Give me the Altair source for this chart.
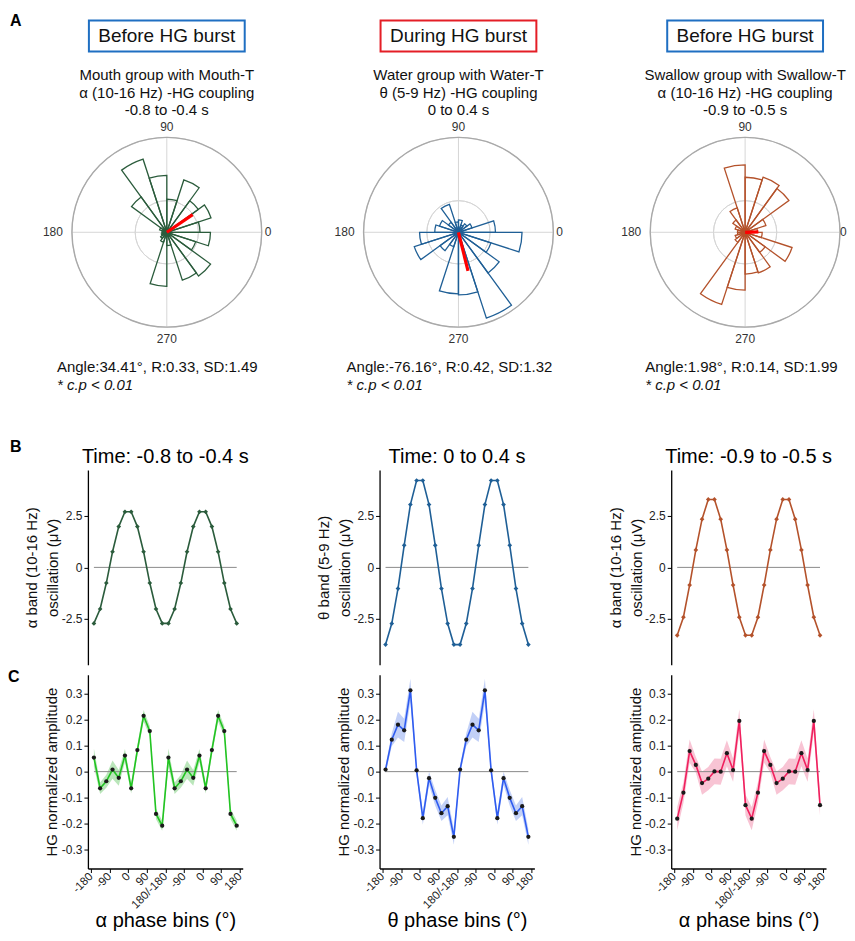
import math
import altair as alt
import pandas as pd

FONT = "Liberation Sans"

# ---------------- data ----------------
bin_start = [0, 18, 36, 54, 72, 90, 108, 126, 144, 162, 180, 198, 216, 234, 252, 270, 288, 306, 324, 342]
bin_width = 18
rose_mouth = [0.35, 0.49, 0.41, 0.58, 0.35, 0.60, 0.81, 0.46, 0.08, 0.05, 0.05, 0.06, 0.08, 0.11, 0.57, 0.14, 0.53, 0.57, 0.32, 0.46]
rose_water = [0.39, 0.15, 0.11, 0.08, 0.13, 0.11, 0.31, 0.13, 0.21, 0.25, 0.41, 0.49, 0.24, 0.16, 0.65, 0.66, 0.95, 0.53, 0.36, 0.67]
rose_swallow = [0.13, 0.23, 0.57, 0.61, 0.58, 0.71, 0.27, 0.16, 0.11, 0.08, 0.08, 0.11, 0.13, 0.80, 0.61, 0.44, 0.45, 0.26, 0.52, 0.18]
ring_levels = [1 / 3, 2 / 3]
outer_ring = [1.0]
mean_angle = [34.41, -76.16, 1.98]
mean_R = [0.33, 0.42, 0.14]
mean_SD = [1.49, 1.32, 1.99]

phase_bins = [-165, -135, -105, -75, -45, -15, 15, 45, 75, 105, 135, 165,
              195, 225, 255, 285, 315, 345, 375, 405, 435, 465, 495, 525]
x_ticks = [-180, -90, 0, 90, 180, 270, 360, 450, 540]
x_tick_labels = ["-180", "-90", "0", "90", "180/-180", "-90", "0", "90", "180"]
osc_ticks = [-2.5, 0, 2.5]
osc_tick_labels = ["-2.5", "0", "2.5"]
hg_ticks = [-0.3, -0.2, -0.1, 0, 0.1, 0.2, 0.3]
hg_tick_labels = ["-0.3", "-0.2", "-0.1", "0", "0.1", "0.2", "0.3"]

osc_mouth = [-2.72, -2.02, -0.76, 0.76, 1.98, 2.7, 2.7, 1.98, 0.76, -0.76, -2.02, -2.72,
             -2.72, -2.02, -0.76, 0.76, 1.98, 2.7, 2.7, 1.98, 0.76, -0.76, -2.02, -2.72]
osc_water = [-3.75, -2.73, -1.03, 1.07, 3.05, 4.22, 4.22, 3.05, 1.07, -1.03, -2.73, -3.75,
             -3.75, -2.73, -1.03, 1.07, 3.05, 4.22, 4.22, 3.05, 1.07, -1.03, -2.73, -3.75]
osc_swallow = [-3.3, -2.42, -0.86, 0.85, 2.34, 3.3, 3.3, 2.34, 0.85, -0.86, -2.42, -3.3,
               -3.3, -2.42, -0.86, 0.85, 2.34, 3.3, 3.3, 2.34, 0.85, -0.86, -2.42, -3.3]

hg_mouth = [0.054, -0.064, -0.037, 0.008, -0.024, 0.062, -0.064, 0.083, 0.215, 0.156, -0.163, -0.208,
            0.054, -0.064, -0.037, 0.008, -0.024, 0.062, -0.064, 0.083, 0.215, 0.156, -0.163, -0.208]
hg_mouth_err = [0.035, 0.022, 0.025, 0.035, 0.03, 0.025, 0.02, 0.02, 0.022, 0.02, 0.02, 0.02,
                0.035, 0.022, 0.025, 0.035, 0.03, 0.025, 0.02, 0.02, 0.022, 0.02, 0.02, 0.02]
hg_water = [0.008, 0.123, 0.181, 0.159, 0.313, 0.005, -0.179, -0.025, -0.101, -0.160, -0.133, -0.251,
            0.008, 0.123, 0.181, 0.159, 0.313, 0.005, -0.179, -0.025, -0.101, -0.160, -0.133, -0.251]
hg_water_err = [0.015, 0.025, 0.05, 0.045, 0.045, 0.02, 0.025, 0.025, 0.03, 0.03, 0.035, 0.03,
                0.015, 0.025, 0.05, 0.045, 0.045, 0.02, 0.025, 0.025, 0.03, 0.03, 0.035, 0.03]
hg_swallow = [-0.181, -0.081, 0.079, 0.026, -0.044, -0.027, 0.001, 0.0, 0.071, 0.006, 0.195, -0.129,
              -0.181, -0.081, 0.079, 0.026, -0.044, -0.027, 0.001, 0.0, 0.071, 0.006, 0.195, -0.129]
hg_swallow_err = [0.045, 0.04, 0.045, 0.03, 0.045, 0.045, 0.05, 0.05, 0.05, 0.045, 0.045, 0.04,
                  0.045, 0.04, 0.045, 0.03, 0.045, 0.045, 0.05, 0.05, 0.05, 0.045, 0.045, 0.04]

headers = ["Before HG burst", "During HG burst", "Before HG burst"]
groups = ["Mouth group with Mouth-T", "Water group with Water-T", "Swallow group with Swallow-T"]
couplings = ["α (10-16 Hz) -HG coupling", "θ (5-9 Hz) -HG coupling", "α (10-16 Hz) -HG coupling"]
windows = ["-0.8 to -0.4 s", "0 to 0.4 s", "-0.9 to -0.5 s"]
sig_text = "* c.p < 0.01"
time_titles = ["Time: -0.8 to -0.4 s", "Time: 0 to 0.4 s", "Time: -0.9 to -0.5 s"]
osc_titles = [["α band (10-16 Hz)", "oscillation (μV)"],
              ["θ band (5-9 Hz)", "oscillation (μV)"],
              ["α band (10-16 Hz)", "oscillation (μV)"]]
hg_title = "HG normalized amplitude"
phase_titles = ["α phase bins (°)", "θ phase bins (°)", "α phase bins (°)"]
panel_letters = ["A", "B", "C"]

rose_sets = [rose_mouth, rose_water, rose_swallow]
osc_sets = [osc_mouth, osc_water, osc_swallow]
hg_sets = [(hg_mouth, hg_mouth_err), (hg_water, hg_water_err), (hg_swallow, hg_swallow_err)]

# ---------------- style / layout ----------------
rose_colors = ["#2b5c3c", "#1f5f96", "#b4522b"]
box_colors = ["#1f6fc2", "#e41e26", "#1f6fc2"]
hg_line_colors = ["#22c422", "#2f5cf0", "#f0205e"]
hg_band_colors = ["#a3dea3", "#adc0f4", "#f6b0c6"]

W = 155
TOP_H = 388
OSC_H = 195
HG_H = 194
R_PX = 95
CXS = [79, 79, 74]
ZERO_DX = [98, 98, 95]
CY = 160
ANGLE_TEXT_DX = [-110, -112, -100]
X_DOM = [-194, 554]
COL_SPACING = 292

ONE = pd.DataFrame({"o": [0]})


def label_expr(vals, labels):
    parts = [f"abs(datum.value - ({v})) < 1e-6 ? '{l}'" for v, l in zip(vals, labels)]
    return " : ".join(parts) + " : ''"


def T(text, x, y, size=15, align="center", baseline="alphabetic", color="#111", **kw):
    return alt.Chart(ONE).mark_text(
        text=text, font=FONT, fontSize=size, align=align, baseline=baseline, color=color, **kw
    ).encode(x=alt.value(x), y=alt.value(y))


def polar_panel(k):
    cx = CXS[k]
    cy = CY
    color = rose_colors[k]
    xs = alt.Scale(domain=[-cx / R_PX, (W - cx) / R_PX], nice=False, zero=False)
    ys = alt.Scale(domain=[-(TOP_H - cy) / R_PX, cy / R_PX], nice=False, zero=False)
    rs = alt.Scale(type="linear", domain=[0, 1], range=[0, R_PX], zero=True)

    def X(f):
        return alt.X(f, type="quantitative", scale=xs, axis=None)

    def Y(f):
        return alt.Y(f, type="quantitative", scale=ys, axis=None)

    rings = alt.Chart(pd.DataFrame({"r": ring_levels})).transform_calculate(
        cx0="0", cy0="0"
    ).mark_arc(theta=0, theta2=2 * math.pi, fillOpacity=0, stroke="#d6d6d6", strokeWidth=1).encode(
        x=X("cx0"), y=Y("cy0"), radius=alt.Radius("r:Q", scale=rs)
    )
    cross = alt.Chart(pd.DataFrame({"a": [0, 90]})).transform_calculate(
        x1="cos(datum.a*PI/180)", x2="-cos(datum.a*PI/180)",
        y1="sin(datum.a*PI/180)", y2="-sin(datum.a*PI/180)"
    ).mark_rule(color="#d6d6d6", strokeWidth=1).encode(
        x=X("x1"), x2=alt.X2("x2"), y=Y("y1"), y2=alt.Y2("y2")
    )
    outer = alt.Chart(pd.DataFrame({"r": outer_ring})).transform_calculate(
        cx0="0", cy0="0"
    ).mark_arc(theta=0, theta2=2 * math.pi, fillOpacity=0, stroke="#a9a9a9", strokeWidth=1.4).encode(
        x=X("cx0"), y=Y("cy0"), radius=alt.Radius("r:Q", scale=rs)
    )
    rose = alt.Chart(pd.DataFrame({"start": bin_start, "r": rose_sets[k]})).transform_calculate(
        cx0="0", cy0="0",
        t1=f"((450 - datum.start - {bin_width}) % 360) * PI / 180",
    ).transform_calculate(
        t2=f"datum.t1 + {bin_width} * PI / 180"
    ).mark_arc(fillOpacity=0, stroke=color, strokeWidth=1.3, strokeJoin="miter").encode(
        x=X("cx0"), y=Y("cy0"),
        theta=alt.Theta("t1:Q", scale=None), theta2=alt.Theta2("t2:Q"),
        radius=alt.Radius("r:Q", scale=rs),
    )
    vec = alt.Chart(pd.DataFrame({"ang": [mean_angle[k]], "R": [mean_R[k]]})).transform_calculate(
        x0="0", y0="0",
        x1="datum.R*cos(datum.ang*PI/180)", y1="datum.R*sin(datum.ang*PI/180)"
    ).mark_rule(color="#ff0000", strokeWidth=3.2).encode(
        x=X("x0"), y=Y("y0"), x2=alt.X2("x1"), y2=alt.Y2("y1")
    )
    layers = [rings, cross, outer, rose, vec,
              T("90", cx, cy - 101, 12, color="#333"),
              T("270", cx, cy + 111, 12, color="#333"),
              T("0", cx + ZERO_DX[k], cy, 12, align="left", baseline="middle", color="#333"),
              T("180", cx - 104, cy, 12, align="right", baseline="middle", color="#333"),
              alt.Chart(ONE).mark_rect(fill="white", fillOpacity=0, stroke=box_colors[k], strokeWidth=2).encode(
                  x=alt.value(cx - 78), x2=alt.value(cx + 78), y=alt.value(-52), y2=alt.value(-21)),
              T(headers[k], cx, -31, 19, color="#111"),
              T(groups[k], cx, 8, 15),
              T(couplings[k], cx, 26, 15),
              T(windows[k], cx, 43, 15),
              T(f"Angle:{mean_angle[k]:.2f}°, R:{mean_R[k]:.2f}, SD:{mean_SD[k]:.2f}",
                cx + ANGLE_TEXT_DX[k], 300, 15, align="left"),
              T(sig_text, cx + ANGLE_TEXT_DX[k], 318, 15, align="left", fontStyle="italic"),
              ]
    if k == 0:
        layers.append(T(panel_letters[0], -78, -47, 16, align="left", fontWeight="bold", color="#000"))
        layers.append(T(panel_letters[1], -78, 380, 16, align="left", fontWeight="bold", color="#000"))
    return alt.layer(*layers).properties(width=W, height=TOP_H)


def osc_panel(k):
    color = rose_colors[k]
    df = pd.DataFrame({"phase": phase_bins, "v": osc_sets[k]})
    xs = alt.Scale(domain=X_DOM, nice=False, zero=False)
    ys = alt.Scale(domain=[-4.73, 4.73], nice=False, zero=False)
    yaxis = alt.Axis(values=osc_ticks, labelExpr=label_expr(osc_ticks, osc_tick_labels),
                     title=osc_titles[k], titleFontSize=15, titleLineHeight=21,
                     titleX=-56, titleBaseline="middle", labelFontSize=12)
    base = alt.Chart(df)
    zero = base.transform_aggregate(lo="min(phase)", hi="max(phase)").transform_calculate(z="0").mark_rule(
        color="#8a8a8a", strokeWidth=1).encode(
        x=alt.X("lo:Q", scale=xs, axis=None), x2=alt.X2("hi:Q"), y=alt.Y("z:Q", scale=ys, axis=yaxis))
    line = base.mark_line(color=color, strokeWidth=1.6).encode(
        x=alt.X("phase:Q", scale=xs, axis=None), y=alt.Y("v:Q", scale=ys, axis=yaxis))
    pts = base.mark_point(shape="diamond", filled=True, size=22, color=color, opacity=1).encode(
        x=alt.X("phase:Q", scale=xs, axis=None), y=alt.Y("v:Q", scale=ys, axis=yaxis))
    return alt.layer(zero, line, pts).properties(
        width=W, height=OSC_H,
        title=alt.TitleParams(time_titles[k], fontSize=20, fontWeight="normal", font=FONT,
                              color="#000", anchor="middle", offset=3))


def hg_panel(k):
    vals, errs = hg_sets[k]
    df = pd.DataFrame({"phase": phase_bins, "v": vals, "e": errs})
    xs = alt.Scale(domain=X_DOM, nice=False, zero=False)
    ys = alt.Scale(domain=[-0.373, 0.373], nice=False, zero=False)
    xaxis = alt.Axis(values=x_ticks, labelExpr=label_expr(x_ticks, x_tick_labels),
                     labelAngle=315, labelAlign="right", labelBaseline="middle", labelFontSize=11.5,
                     labelOverlap=False, labelPadding=2, title=phase_titles[k], titleFontSize=20,
                     titleY=58, titleBaseline="alphabetic", titleColor="#000")
    yaxis = alt.Axis(values=hg_ticks, labelExpr=label_expr(hg_ticks, hg_tick_labels),
                     title=hg_title, titleFontSize=15, titleX=-36, titleBaseline="middle",
                     labelFontSize=12, labelOverlap=False)
    base = alt.Chart(df)
    band = base.transform_calculate(lo="datum.v - datum.e", hi="datum.v + datum.e").mark_area(
        color=hg_band_colors[k], opacity=0.75).encode(
        x=alt.X("phase:Q", scale=xs, axis=xaxis), y=alt.Y("lo:Q", scale=ys, axis=yaxis), y2=alt.Y2("hi:Q"))
    zero = base.transform_aggregate(lo="min(phase)", hi="max(phase)").transform_calculate(z="0").mark_rule(
        color="#8a8a8a", strokeWidth=1).encode(
        x=alt.X("lo:Q", scale=xs, axis=xaxis), x2=alt.X2("hi:Q"), y=alt.Y("z:Q", scale=ys, axis=yaxis))
    line = base.mark_line(color=hg_line_colors[k], strokeWidth=1.6).encode(
        x=alt.X("phase:Q", scale=xs, axis=xaxis), y=alt.Y("v:Q", scale=ys, axis=yaxis))
    pts = base.mark_circle(size=18, color="#1a1a1a", opacity=1).encode(
        x=alt.X("phase:Q", scale=xs, axis=xaxis), y=alt.Y("v:Q", scale=ys, axis=yaxis))
    layers = [band, zero, line, pts]
    if k == 0:
        layers.append(T(panel_letters[2], -80, 7, 16, align="left", fontWeight="bold", color="#000"))
    return alt.layer(*layers).properties(width=W, height=HG_H)


columns = [alt.vconcat(polar_panel(k), osc_panel(k), hg_panel(k), spacing=10, bounds="flush")
           for k in range(3)]

chart = alt.hconcat(*columns, spacing=COL_SPACING, bounds="flush").properties(
    padding={"left": 0, "top": 4, "right": 0, "bottom": 0}
).configure_view(strokeWidth=0).configure_axis(
    labelFont=FONT, titleFont=FONT, labelColor="#222", titleColor="#111",
    domainColor="#000", tickColor="#000", domainWidth=1.3, tickWidth=1, tickSize=4,
    grid=False, titleFontWeight="normal"
)

chart.save("out.html", embed_options={"renderer": "svg", "actions": False})
